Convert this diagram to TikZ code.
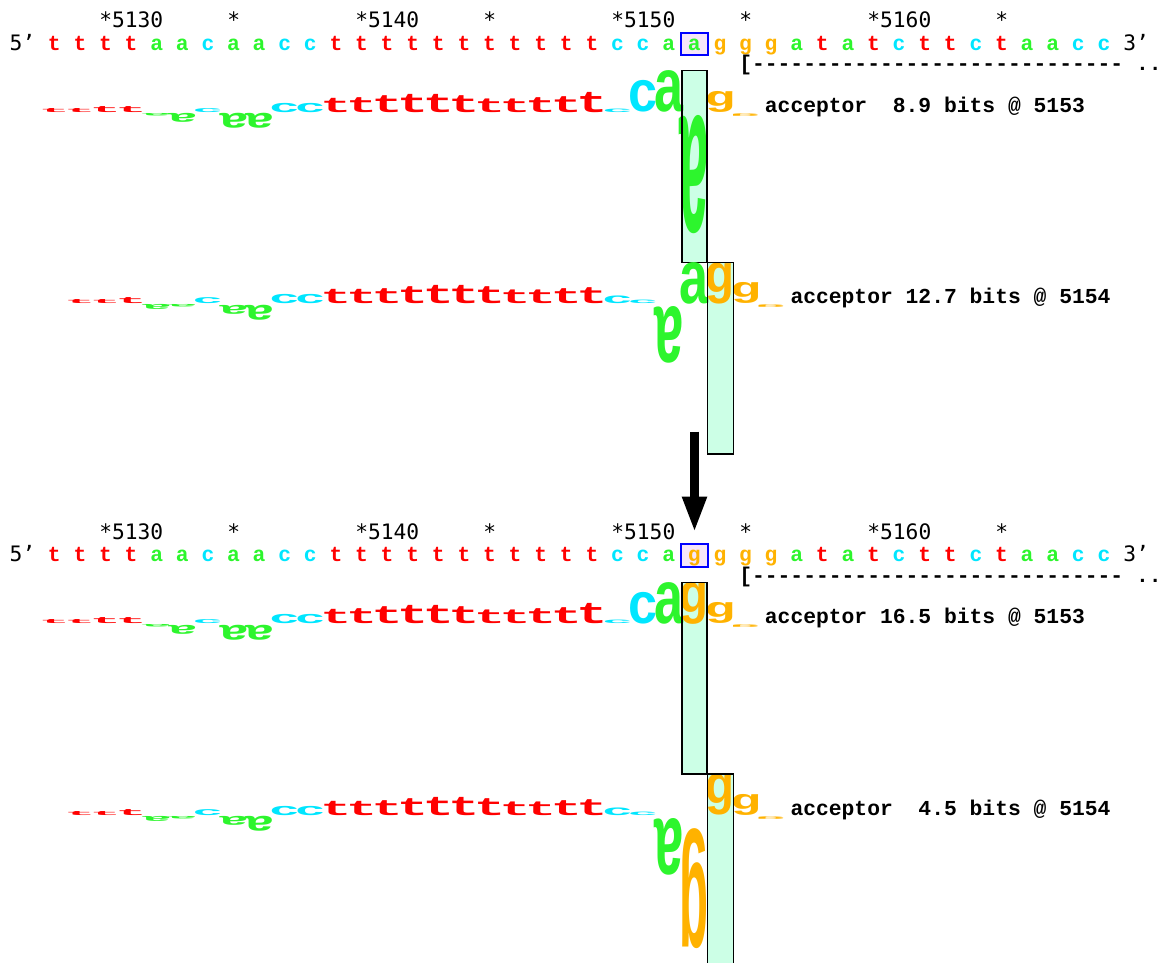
\documentclass[tikz,border=0pt]{standalone}
\usepackage{fontspec}
\setmonofont{Liberation Mono}
\newfontfamily\numf{DejaVu Sans Mono}
\newfontfamily\sansf{Liberation Sans}
\usetikzlibrary{arrows.meta}
\definecolor{nt}{RGB}{255,0,0}
\definecolor{na}{RGB}{45,245,45}
\definecolor{nc}{RGB}{0,230,255}
\definecolor{ng}{RGB}{255,178,0}
\definecolor{rectfill}{RGB}{204,255,230}
\definecolor{boxfill}{RGB}{246,230,250}
\definecolor{boxblue}{RGB}{0,0,255}
\newcommand\BX[1]{(54.3+((#1)-1)*25.6)}
\newcommand\glyphbox[2]{%
  \ifdim #2pt>26pt
    \resizebox*{29pt}{#2pt}{\sansf\bfseries\color{n#1}#1}%
  \else
    \resizebox*{31pt}{#2pt}{\ttfamily\bfseries\color{n#1}#1}%
  \fi}
\newcommand\walker[3]{%
  \foreach \k/\L/\h/\o in {#3}{%
    \pgfmathsetmacro\hh{abs(\h)}%
    \ifdim \h pt>0pt
      \node[lg,anchor=south] (w#1b\k) at ({\BX{\k}},#2) {\glyphbox{\L}{\hh}};
    \else
      \node[lg,anchor=north] (w#1b\k) at ({\BX{\k}},{#2+\o}) {\rotatebox{180}{\glyphbox{\L}{\hh}}};
    \fi
  }}
\newcommand\seqpanel[2]{%
  \node[draw=boxblue,fill=boxfill,line width=2pt,minimum width=26.7pt,minimum height=22.4pt,inner sep=0] (#1box) at (694.35,43.9) {};
  \foreach \L [count=\k] in {t,t,t,t,a,a,c,a,a,c,c,t,t,t,t,t,t,t,t,t,t,t,c,c,a,#2,g,g,g,a,t,a,t,c,t,t,c,t,a,a,c,c}{%
    \node[seq,text=n\L] (#1s\k) at ({\BX{\k}},50.1) {\L};}
  \foreach \k/\s in {3/*5130,8/*,13/*5140,18/*,23/*5150,28/*,33/*5160,38/*}{%
    \node[num] (#1n\k) at ({\BX{\k}-6.4},27.7) {\s};}
  \node[num] (#1five) at (9.5,50.1) {5’};
  \node[num] (#1three) at (1123.1,50.1) {3’};
  \node[seq,anchor=base west,text=black] (#1brk) at (739.1,70.4) {[-----------------------------~..};
}
\tikzset{
  lg/.style={inner sep=0pt,outer sep=0pt},
  seq/.style={anchor=base,inner sep=0pt,font=\ttfamily\bfseries\fontsize{21.33pt}{24pt}\selectfont},
  num/.style={anchor=base west,inner sep=0pt,font=\numf\fontsize{21.26pt}{24pt}\selectfont},
  lab/.style={anchor=base west,inner sep=0pt,font=\ttfamily\bfseries\fontsize{21.33pt}{24pt}\selectfont},
  wrect/.style={line width=1.5pt},
}
\begin{document}
\frenchspacing
\begin{tikzpicture}[x=1pt,y=-1pt]
\useasboundingbox (0,0) rectangle (1165,963);
% ---------- panel 1 ----------
\seqpanel{p}{a}
\fill[rectfill] (682,70.7) rectangle (707,262.3);
\walker{1}{112.3}{1/t/4/0,2/t/4/0,3/t/6/0,4/t/6/0,5/a/-2.5/1,6/a/-9/1,7/c/4/0,8/a/-15/1,9/a/-15/1,10/c/9.3/0,11/c/9.3/0,12/t/14.3/0,13/t/15/0,14/t/17/0,15/t/18.3/0,16/t/18.3/0,17/t/17/0,18/t/13.7/0,19/t/13.7/0,20/t/15/0,21/t/16/0,22/t/20.3/0,23/c/3.5/0,24/c/31.7/0,25/a/41.7/0,26/a/-118.3/2.7,27/g/21/0,28/g/-2.5/1}
\draw[wrect] (682,70.7) rectangle (707,262.3);
\node[lab] (l1) at (764.7,112.3) {acceptor~~8.9 bits @ 5153};
\fill[rectfill] (707.7,262.3) rectangle (733.3,453.9);
\walker{2}{303.9}{2/t/4/0,3/t/4/0,4/t/6/0,5/a/-5/1,6/a/-2.5/1,7/c/6/0,8/a/-9/1,9/a/-15/1,10/c/9.3/0,11/c/9.3/0,12/t/14.3/0,13/t/14.3/0,14/t/15/0,15/t/17/0,16/t/18.3/0,17/t/18.3/0,18/t/17/0,19/t/13.7/0,20/t/13.7/0,21/t/15/0,22/t/16/0,23/c/7.7/0,24/c/3.5/0,25/a/-56.7/2.8,26/a/41.7/0,27/g/41/0,28/g/21/0,29/g/-2.5/1}
\draw[wrect] (707.7,262.3) rectangle (733.3,453.9);
\node[lab] (l2) at (790.3,303.9) {acceptor 12.7 bits @ 5154};
% ---------- arrow ----------
\coordinate (arrS) at (694.5,431.7);
\coordinate (arrE) at (694.5,532.7);
\draw[line width=9pt,-{Triangle[width=22.4pt,length=36pt]}] (arrS) -- (arrE);
% ---------- panel 2 ----------
\begin{scope}[shift={(0,511.6)}]
\seqpanel{q}{g}
\fill[rectfill] (682,70.7) rectangle (707,262.3);
\walker{3}{112.3}{1/t/4/0,2/t/4/0,3/t/6/0,4/t/6/0,5/a/-2.5/1,6/a/-9/1,7/c/4/0,8/a/-15/1,9/a/-15/1,10/c/9.3/0,11/c/9.3/0,12/t/14.3/0,13/t/15/0,14/t/17/0,15/t/18.3/0,16/t/18.3/0,17/t/17/0,18/t/13.7/0,19/t/13.7/0,20/t/15/0,21/t/16/0,22/t/20.3/0,23/c/3.5/0,24/c/31.7/0,25/a/41.7/0,26/g/42/0,27/g/21/0,28/g/-2.5/1}
\draw[wrect] (682,70.7) rectangle (707,262.3);
\node[lab] (l3) at (764.7,112.3) {acceptor 16.5 bits @ 5153};
\fill[rectfill] (707.7,262.3) rectangle (733.3,460);
\walker{4}{303.9}{2/t/4/0,3/t/4/0,4/t/6/0,5/a/-5/1,6/a/-2.5/1,7/c/6/0,8/a/-9/1,9/a/-15/1,10/c/9.3/0,11/c/9.3/0,12/t/14.3/0,13/t/14.3/0,14/t/15/0,15/t/17/0,16/t/18.3/0,17/t/18.3/0,18/t/17/0,19/t/13.7/0,20/t/13.7/0,21/t/15/0,22/t/16/0,23/c/7.7/0,24/c/3.5/0,25/a/-56.7/2.8,26/g/-120/12.8,27/g/41/0,28/g/21/0,29/g/-2.5/1}
\draw[wrect] (707.7,460) -- (707.7,262.3) -- (733.3,262.3) -- (733.3,460);
\node[lab] (l4) at (790.3,303.9) {acceptor~~4.5 bits @ 5154};
\end{scope}
\end{tikzpicture}
\end{document}
